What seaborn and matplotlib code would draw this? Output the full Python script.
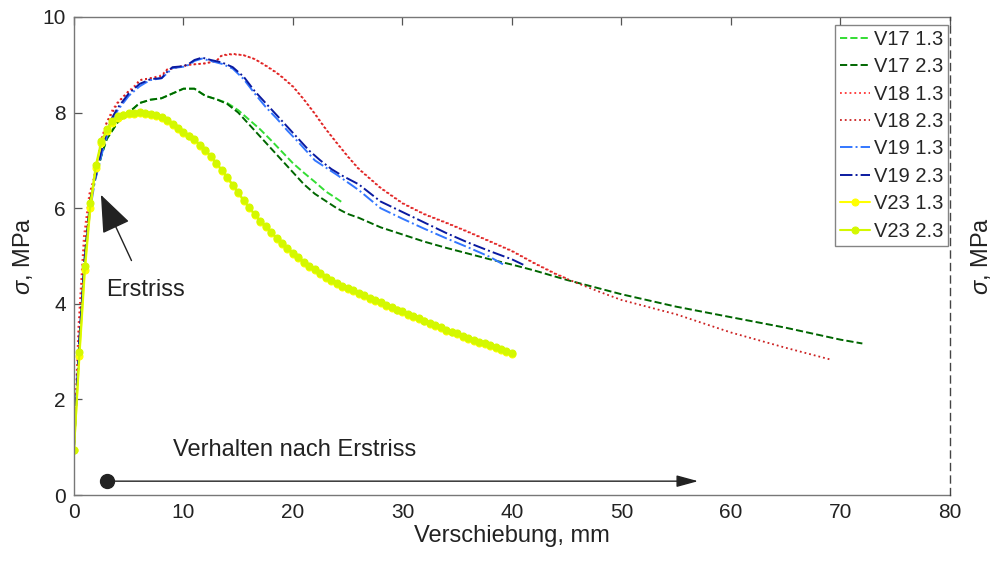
import matplotlib
matplotlib.use("Agg")
import matplotlib.pyplot as plt
import seaborn as sns
import pandas as pd

# ---------------- data ----------------
x_v17_13 = [0, 0.5, 1.0, 1.5, 1.8, 2.5, 3, 4, 5, 6, 7, 8, 9, 10, 11, 12, 13, 14, 15, 16, 17, 18, 19, 20, 21, 22, 23, 24, 24.5]
y_v17_13 = [1.0, 3.2, 5.0, 6.2, 6.5, 7.1, 7.45, 7.8, 8.0, 8.2, 8.27, 8.3, 8.4, 8.5, 8.5, 8.35, 8.28, 8.2, 8.05, 7.85, 7.65, 7.42, 7.18, 6.94, 6.74, 6.55, 6.35, 6.2, 6.12]

x_v17_23 = [0, 0.5, 1.0, 1.5, 1.8, 2.5, 3, 4, 5, 6, 7, 8, 9, 10, 11, 12, 13, 14, 15, 16, 17, 18, 19, 20, 21, 22, 23, 24, 25, 26, 28, 30, 32, 34, 36, 38, 40, 42, 45, 50, 55, 60, 65, 70, 72]
y_v17_23 = [1.0, 3.2, 5.0, 6.2, 6.5, 7.1, 7.45, 7.8, 8.0, 8.2, 8.27, 8.3, 8.4, 8.5, 8.5, 8.35, 8.28, 8.18, 8.0, 7.75, 7.5, 7.25, 7.0, 6.75, 6.5, 6.3, 6.15, 6.0, 5.88, 5.8, 5.6, 5.45, 5.3, 5.17, 5.05, 4.93, 4.82, 4.7, 4.5, 4.2, 3.94, 3.72, 3.5, 3.25, 3.17]

x_v18_13 = [0, 0.4, 0.9, 1.4, 1.8, 2.5, 3, 3.5, 4, 5, 5.5, 6, 7, 8, 8.5, 9.5, 10.5, 12, 13, 13.5, 14.5, 15.5, 16.5, 17.5, 18.5, 19, 20, 21, 22, 23, 24, 25, 26, 28, 30, 32, 34, 36, 38, 40, 42, 44, 45]
y_v18_13 = [1.0, 3.5, 5.4, 6.3, 6.6, 7.45, 7.8, 8.05, 8.22, 8.45, 8.55, 8.68, 8.72, 8.78, 8.9, 8.95, 9.0, 9.03, 9.08, 9.19, 9.22, 9.2, 9.12, 8.99, 8.84, 8.75, 8.55, 8.28, 7.98, 7.66, 7.37, 7.09, 6.83, 6.43, 6.11, 5.88, 5.7, 5.51, 5.31, 5.11, 4.86, 4.63, 4.53]

x_v18_23 = [0, 0.5, 1.0, 1.5, 1.8, 2.5, 3, 3.5, 4, 5, 5.5, 6, 7, 8, 8.5, 9.5, 10.5, 12, 13, 13.5, 14.5, 15.5, 16.5, 17.5, 18.5, 19, 20, 21, 22, 23, 24, 25, 26, 28, 30, 32, 34, 36, 38, 40, 42, 44, 46, 48, 50, 55, 60, 65, 69]
y_v18_23 = [1.0, 3.5, 5.3, 6.3, 6.6, 7.4, 7.8, 8.0, 8.2, 8.45, 8.5, 8.68, 8.72, 8.75, 8.9, 8.95, 9.0, 9.03, 9.08, 9.2, 9.23, 9.2, 9.12, 8.98, 8.83, 8.74, 8.54, 8.27, 7.97, 7.65, 7.36, 7.08, 6.82, 6.42, 6.1, 5.87, 5.69, 5.5, 5.3, 5.1, 4.85, 4.62, 4.43, 4.25, 4.08, 3.78, 3.4, 3.08, 2.84]

x_v19_13 = [0, 0.5, 1.0, 1.5, 1.9, 2.5, 3, 3.5, 4, 4.5, 5, 5.5, 6, 6.5, 7, 8, 8.5, 9, 10, 10.5, 11, 11.7, 12.5, 13.5, 14.5, 15.5, 16.5, 17.5, 18.5, 19.5, 20.5, 22, 24, 26, 28, 30, 32, 34, 36, 38, 39.3]
y_v19_13 = [1.0, 3.1, 4.9, 6.0, 6.55, 7.1, 7.5, 7.85, 8.05, 8.2, 8.35, 8.45, 8.55, 8.62, 8.68, 8.72, 8.82, 8.93, 8.96, 9.0, 9.08, 9.13, 9.08, 9.02, 8.92, 8.7, 8.4, 8.12, 7.88, 7.62, 7.38, 7.0, 6.7, 6.38, 6.0, 5.78, 5.57, 5.37, 5.18, 4.98, 4.81]

x_v19_23 = [0, 0.5, 1.0, 1.5, 1.9, 2.5, 3, 3.5, 4, 4.5, 5, 5.5, 6, 6.5, 7, 8, 8.5, 9, 10, 10.5, 11, 11.7, 12.5, 13.5, 14.5, 15.5, 16.5, 17.5, 18.5, 19.5, 20.5, 21.5, 22.5, 23.5, 24.5, 26, 28, 30, 32, 34, 36, 38, 40, 41.1]
y_v19_23 = [1.0, 3.3, 5.0, 6.1, 6.6, 7.2, 7.6, 7.9, 8.1, 8.25, 8.4, 8.5, 8.6, 8.65, 8.7, 8.72, 8.85, 8.95, 8.97, 9.02, 9.1, 9.15, 9.1, 9.05, 8.95, 8.75, 8.45, 8.2, 7.95, 7.7, 7.45, 7.2, 7.0, 6.82, 6.68, 6.5, 6.14, 5.92, 5.7, 5.48, 5.28, 5.1, 4.93, 4.81]

x_v23 = [0, 0.5, 1.0, 1.5, 2.0, 2.5, 3.0, 3.5, 4.0, 4.5, 5.0, 5.5, 6.0, 6.5, 7.0, 7.5, 8.0, 8.5, 9.0, 9.5,
         10.0, 10.5, 11.0, 11.5, 12.0, 12.5, 13.0, 13.5, 14.0, 14.5, 15.0, 15.5, 16.0, 16.5, 17.0, 17.5,
         18.0, 18.5, 19.0, 19.5, 20.0, 20.5, 21.0, 21.5, 22.0, 22.5, 23.0, 23.5, 24.0, 24.5, 25.0, 25.5,
         26.0, 26.5, 27.0, 27.5, 28.0, 28.5, 29.0, 29.5, 30.0, 30.5, 31.0, 31.5, 32.0, 32.5, 33.0, 33.5,
         34.0, 34.5, 35.0, 35.5, 36.0, 36.5, 37.0, 37.5, 38.0, 38.5, 39.0, 39.5, 40.0]
y_v23_13 = [0.94, 2.9, 4.7, 6.0, 6.85, 7.36, 7.62, 7.79, 7.89, 7.94, 7.97, 7.98, 7.99, 7.98, 7.96, 7.92, 7.88, 7.82,
            7.74, 7.66, 7.58, 7.5, 7.42, 7.31, 7.2, 7.07, 6.93, 6.78, 6.63, 6.47, 6.31, 6.15, 6.0, 5.86, 5.72,
            5.6, 5.48, 5.36, 5.25, 5.14, 5.04, 4.95, 4.86, 4.78, 4.7, 4.62, 4.55, 4.48, 4.42, 4.36, 4.31,
            4.26, 4.21, 4.16, 4.11, 4.06, 4.01, 3.96, 3.91, 3.86, 3.82, 3.77, 3.73, 3.68, 3.63, 3.58, 3.54,
            3.49, 3.44, 3.4, 3.36, 3.31, 3.27, 3.23, 3.19, 3.15, 3.11, 3.07, 3.03, 2.99, 2.96]
y_v23_23 = [0.94, 3.0, 4.8, 6.1, 6.9, 7.4, 7.65, 7.82, 7.92, 7.96, 7.99, 8.0, 8.01, 8.0, 7.98, 7.94, 7.9, 7.84,
            7.76, 7.68, 7.6, 7.52, 7.44, 7.33, 7.22, 7.09, 6.95, 6.8, 6.65, 6.49, 6.33, 6.17, 6.02, 5.88, 5.74,
            5.62, 5.5, 5.38, 5.27, 5.16, 5.06, 4.97, 4.88, 4.8, 4.72, 4.64, 4.57, 4.5, 4.44, 4.38, 4.33,
            4.28, 4.23, 4.18, 4.13, 4.08, 4.03, 3.98, 3.93, 3.88, 3.84, 3.79, 3.75, 3.7, 3.65, 3.6, 3.56,
            3.51, 3.46, 3.42, 3.38, 3.33, 3.29, 3.25, 3.21, 3.17, 3.13, 3.09, 3.05, 3.01, 2.98]

labels = ["V17 1.3", "V17 2.3", "V18 1.3", "V18 2.3", "V19 1.3", "V19 2.3", "V23 1.3", "V23 2.3"]
xs = [x_v17_13, x_v17_23, x_v18_13, x_v18_23, x_v19_13, x_v19_23, x_v23, x_v23]
ys = [y_v17_13, y_v17_23, y_v18_13, y_v18_23, y_v19_13, y_v19_23, y_v23_13, y_v23_23]

x_ticks = [0, 10, 20, 30, 40, 50, 60, 70, 80]
y_ticks = [0, 2, 4, 6, 8, 10]

# ---------------- styles ----------------
colors = ["#33dd33", "#006600", "#ff3333", "#cc2222", "#3377ff", "#0a1aa0", "#ffff00", "#d4f800"]
lstyles = ["--", "--", ":", ":", "-.", "-.", "-", "-"]
lwidths = [1.4, 1.4, 1.3, 1.3, 1.4, 1.4, 1.5, 1.5]
markers = [None, None, None, None, None, None, "o", "o"]

sns.set_theme(style="white")
plt.rcParams['font.family'] = ['Liberation Sans', 'DejaVu Sans']
plt.rcParams['mathtext.fontset'] = 'custom'
plt.rcParams['mathtext.it'] = 'Liberation Sans:italic'

fig = plt.figure(figsize=(10.01, 5.66), dpi=100)
ax = fig.add_axes([0.0739, 0.1254, 0.8751, 0.8446])

for lab, xv, yv, c, ls, lw, mk in zip(labels, xs, ys, colors, lstyles, lwidths, markers):
    df = pd.DataFrame({"x": xv, "y": yv})
    kw = dict(color=c, linestyle=ls, linewidth=lw, label=lab)
    if mk:
        kw.update(marker=mk, markersize=5, markeredgewidth=0.8, markeredgecolor=c)
    sns.lineplot(data=df, x="x", y="y", ax=ax, sort=False, estimator=None, **kw)

ax.set_xlim(0, 80)
ax.set_ylim(0, 10)
ax.set_xticks(x_ticks)
ax.set_yticks(y_ticks)
ax.set_xticklabels([str(t) for t in x_ticks])
ax.set_yticklabels([str(t) for t in y_ticks])
ax.tick_params(axis='both', direction='in', length=6, width=0.9, color='#555555',
               labelsize=15, labelcolor='#222222', pad=6, top=True, right=False)
ax.set_xlabel("Verschiebung, mm", fontsize=17, color='#222222', labelpad=2)
ax.set_ylabel(r"$\sigma$, MPa", fontsize=17, color='#222222', labelpad=5)

for s in ['left', 'bottom', 'top']:
    ax.spines[s].set_color('#777777')
    ax.spines[s].set_linewidth(1.0)
ax.spines['right'].set_visible(False)

# right axis: dashed line with label only
ax2 = ax.twinx()
ax2.set_ylim(0, 10)
ax2.set_yticks([])
for s in ['left', 'bottom', 'top']:
    ax2.spines[s].set_visible(False)
ax2.spines['right'].set_linestyle((0, (5, 4)))
ax2.spines['right'].set_color('#444444')
ax2.spines['right'].set_linewidth(1.0)
ax2.set_ylabel(r"$\sigma$, MPa", fontsize=17, color='#222222', labelpad=14)

# annotations
ax.annotate("Erstriss", xy=(2.46, 6.28), xytext=(6.5, 4.29), fontsize=17, color='#222222',
            ha='center', va='center',
            arrowprops=dict(arrowstyle='-|>,head_length=1.4,head_width=0.55', color='#222222',
                            lw=1.0, shrinkA=12, shrinkB=0))
ax.annotate("", xy=(57.0, 0.29), xytext=(3.0, 0.29),
            arrowprops=dict(arrowstyle='-|>,head_length=1.1,head_width=0.3', color='#222222',
                            lw=1.0, shrinkA=0, shrinkB=0))
ax.plot([3.0], [0.29], marker='o', markersize=10, color='#222222', zorder=5)
ax.text(9.0, 0.94, "Verhalten nach Erstriss", fontsize=17, color='#222222', ha='left', va='center')

leg = ax.legend(loc='upper right', bbox_to_anchor=(0.998, 0.984), fontsize=14.5,
                frameon=True, fancybox=False, edgecolor='#666666', borderpad=0.25,
                labelspacing=0.42, handlelength=1.5, handletextpad=0.2, borderaxespad=0)
leg.get_frame().set_linewidth(1.0)
leg.set_zorder(10)

fig.savefig("out.png", dpi=100, facecolor='white')
